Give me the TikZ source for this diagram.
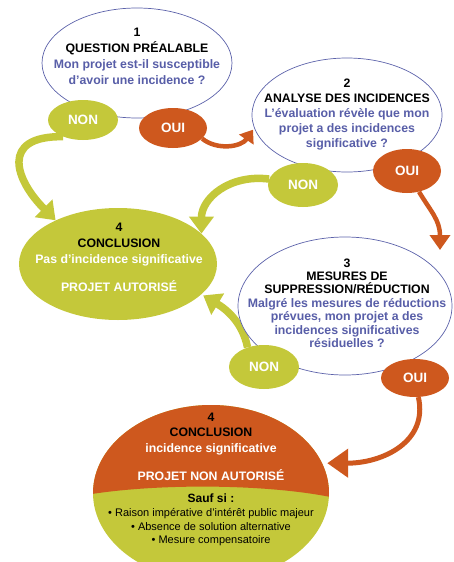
\documentclass[tikz,border=0pt]{standalone}
\usepackage{fontspec}
\setmainfont{Liberation Sans}
\usetikzlibrary{shapes.geometric,arrows.meta,backgrounds}

\definecolor{nongreen}{RGB}{196,200,58}
\definecolor{ouiorange}{RGB}{206,88,30}
\definecolor{askblue}{RGB}{88,94,168}
\definecolor{rimblue}{RGB}{92,98,170}
\newcommand{\ask}[1]{\textcolor{askblue}{#1}}
\newcommand{\wh}[1]{\textcolor{white}{#1}}

\begin{document}
\begin{tikzpicture}[x=1pt,y=-1pt,
   question/.style={ellipse, draw=rimblue, line width=0.7pt, fill=white, inner sep=0pt},
   conclusion/.style={ellipse, fill=nongreen, inner sep=0pt},
   answer/.style={ellipse, inner sep=0pt, text=white,
                  font=\fontsize{13.5}{14}\selectfont\bfseries},
   non/.style={answer, fill=nongreen, minimum width=70, minimum height=40},
   oui/.style={answer, fill=ouiorange, minimum width=68, minimum height=40},
   qtext/.style={align=center, font=\fontsize{12.3}{16}\selectfont\bfseries},
   yesarrow/.style={draw=ouiorange, line width=4.5pt, -{Triangle[width=17pt,length=12pt]}},
   noarrow/.style={draw=nongreen, line width=7.5pt, -{Triangle[width=24pt,length=17pt]}}]

\useasboundingbox (0,0) rectangle (454,562);

% les questions
\node[question, minimum width=190, minimum height=110] (q1) at (137,63) {};
\node[qtext] (q1t) at (137,56) {1\\QUESTION PRÉALABLE\\\ask{Mon projet est-il susceptible}\\\ask{d'avoir une incidence ?}};

\node[question, minimum width=190, minimum height=114] (q2) at (347,115) {};
\node[qtext, font=\fontsize{12.3}{15}\selectfont\bfseries] (q2t) at (347,115)
   {2\\ANALYSE DES INCIDENCES\\\ask{L'évaluation révèle que mon}\\\ask{projet a des incidences}\\\ask{significative ?}};

\node[question, minimum width=214, minimum height=138] (q3) at (345,306) {};
\node[qtext, font=\fontsize{12.3}{13.4}\selectfont\bfseries] (q3t) at (347,303)
   {3\\MESURES DE\\SUPPRESSION/RÉDUCTION\\\ask{Malgré les mesures de réductions}\\\ask{prévues, mon projet a des}\\\ask{incidences significatives}\\\ask{résiduelles ?}};

% les conclusions
\node[conclusion, minimum width=198, minimum height=112] (concl) at (118,264) {};
\node[qtext] (conclt) at (119,257) {4\\CONCLUSION\\\wh{Pas d'incidence significative}\\[12pt]\wh{PROJET AUTORISÉ}};

\node[conclusion, minimum width=236, minimum height=176] (nopass) at (211,493) {};
\begin{scope}
  \clip (nopass.center) ellipse [x radius=118pt, y radius=88pt];
  \fill[ouiorange] (80,496) .. controls (150,483) and (270,483) .. (340,499)
     -- (340,390) -- (80,390) -- cycle;
\end{scope}
\node[qtext, font=\fontsize{12.3}{15.5}\selectfont\bfseries] (nopasst) at (211,447)
   {4\\CONCLUSION\\\wh{incidence significative}\\[13pt]\wh{PROJET NON AUTORISÉ}};
\node[align=center, font=\fontsize{11}{13.8}\selectfont] (unless) at (211,520)
   {\textbf{\fontsize{12}{13.8}\selectfont Sauf si :}\\• Raison impérative d'intérêt public majeur\\• Absence de solution alternative\\• Mesure compensatoire};

% les reponses
\node[non] (non1) at (83,120) {NON};
\node[oui] (oui1) at (173,128) {OUI};
\node[non, minimum height=44] (non2) at (303,185) {NON};
\node[oui, minimum height=44] (oui2) at (407,171) {OUI};
\node[non, minimum height=44] (non3) at (264,367) {NON};
\node[oui, minimum height=38] (oui3) at (415,378) {OUI};
\coordinate (q3top) at (440,250);

\begin{scope}[on background layer]
\draw[noarrow] (non1.220) .. controls +(-64,-1) and +(-40,-40) .. (concl.145);
\draw[noarrow] (non2.170) .. controls +(-40,-5) and +(0,-35) .. (concl.20);
\draw[noarrow, shorten >=2pt] (non3.130) .. controls +(-5,-25) and +(25,15) .. (concl.-20);
\draw[yesarrow, shorten >=2pt] (oui1.-20) .. controls +(15,12) and +(-13,19) .. (q2.188);
\draw[yesarrow, -{Triangle[width=20pt,length=15pt]}] (oui2.-60) .. controls +(12,20) and +(0,-30) .. (q3top);
\draw[yesarrow, line width=5pt, -{Triangle[width=28pt,length=21pt]}, shorten >=5pt]
   (oui3.-80) .. controls +(10,45) and +(60,0) .. (nopass.15);
\end{scope}

\end{tikzpicture}
\end{document}
